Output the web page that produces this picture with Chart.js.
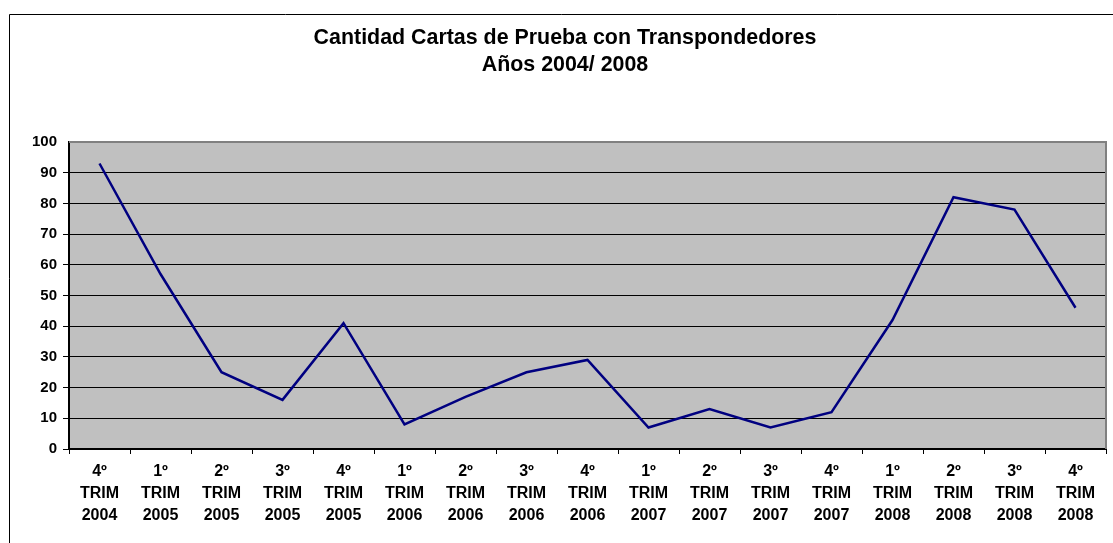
<!DOCTYPE html>
<html>
<head>
<meta charset="utf-8">
<script src="https://cdn.jsdelivr.net/npm/chart.js@4.4.1/dist/chart.umd.min.js"></script>
<style>
  html, body { margin: 0; padding: 0; background: #ffffff; }
  #wrap { position: relative; width: 1113px; height: 543px; }
</style>
</head>
<body>
<div id="wrap"><canvas id="c" width="1113" height="543"></canvas></div>
<script>
const titleLines = ['Cantidad Cartas de Prueba con Transpondedores', 'Años 2004/ 2008'];
const quarters = ['4º','1º','2º','3º','4º','1º','2º','3º','4º','1º','2º','3º','4º','1º','2º','3º','4º'];
const years = ['2004','2005','2005','2005','2005','2006','2006','2006','2006','2007','2007','2007','2007','2008','2008','2008','2008'];
const cartas = [93, 57, 25, 16, 41, 8, 17, 25, 29, 7, 13, 7, 12, 42, 82, 78, 46];
const yTicks = [0, 10, 20, 30, 40, 50, 60, 70, 80, 90, 100];

const labels = quarters.map((q, i) => [q, 'TRIM', years[i]]);

const FONT = "'Liberation Sans', Arial, sans-serif";

const decor = {
  id: 'decor',
  beforeDraw(chart) {
    const { ctx, chartArea: a } = chart;
    ctx.save();
    ctx.fillStyle = '#ffffff';
    ctx.fillRect(0, 0, chart.width, chart.height);
    ctx.strokeStyle = '#000000';
    ctx.lineWidth = 1;
    ctx.beginPath();
    ctx.moveTo(9.5, chart.height);
    ctx.lineTo(9.5, 14.5);
    ctx.lineTo(chart.width, 14.5);
    ctx.stroke();
    ctx.fillStyle = '#c0c0c0';
    ctx.fillRect(a.left, a.top, a.right - a.left, a.bottom - a.top);
    ctx.restore();
  },
  afterDatasetsDraw(chart) {
    const { ctx, chartArea: a } = chart;
    ctx.save();
    ctx.strokeStyle = '#808080';
    ctx.lineWidth = 2;
    ctx.beginPath();
    ctx.moveTo(a.left, a.top);
    ctx.lineTo(a.right, a.top);
    ctx.lineTo(a.right, a.bottom);
    ctx.stroke();
    ctx.restore();
  }
};

new Chart(document.getElementById('c'), {
  type: 'line',
  data: {
    labels: labels,
    datasets: [{
      data: cartas,
      borderColor: '#000080',
      borderWidth: 2.5,
      pointRadius: 0,
      tension: 0,
      fill: false
    }]
  },
  options: {
    responsive: false,
    animation: false,
    devicePixelRatio: 1,
    layout: { padding: { left: 24, right: 7, top: 14, bottom: 0 } },
    plugins: {
      legend: { display: false },
      tooltip: { enabled: false },
      title: {
        display: true,
        text: titleLines,
        color: '#000000',
        font: { family: FONT, size: 21.4, weight: 'bold', lineHeight: 27 / 21.4 },
        padding: { top: 10.5, bottom: 63.5 }
      }
    },
    scales: {
      x: {
        type: 'category',
        offset: true,
        afterFit(scale) { scale.height = 94; },
        grid: {
          offset: true,
          drawOnChartArea: false,
          drawTicks: true,
          tickLength: 5,
          color: '#000000',
          lineWidth: 1
        },
        border: { display: true, color: '#000000', width: 2 },
        ticks: {
          color: '#000000',
          autoSkip: false,
          maxRotation: 0,
          padding: 6.5,
          font: { family: FONT, size: 16, weight: 'bold', lineHeight: 22 / 16 }
        }
      },
      y: {
        min: 0,
        max: 100,
        afterFit(scale) { scale.width = 45; },
        afterBuildTicks(scale) { scale.ticks = yTicks.map(v => ({ value: v })); },
        grid: {
          drawTicks: true,
          tickLength: 6,
          color: (c) => (c.tick && c.tick.value === 100) ? 'rgba(0,0,0,0)' : '#000000',
          lineWidth: 1
        },
        border: { display: true, color: '#000000', width: 2 },
        ticks: {
          color: '#000000',
          padding: 6,
          font: { family: FONT, size: 15, weight: 'bold' }
        }
      }
    }
  },
  plugins: [decor]
});
</script>
</body>
</html>
